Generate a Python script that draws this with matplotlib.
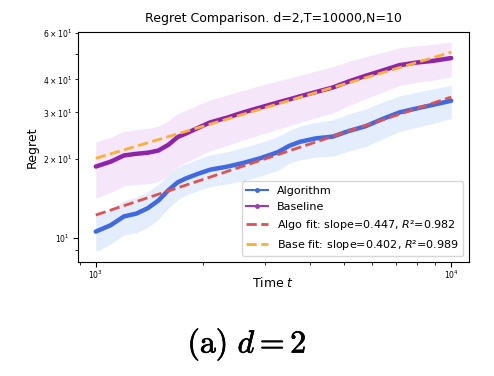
import matplotlib
matplotlib.use("Agg")
import matplotlib.pyplot as plt
from matplotlib.lines import Line2D
import matplotlib.patheffects as pe
import numpy as np

# ---- data ----
t_vals = [1000, 1100, 1200, 1300, 1400, 1500, 1600, 1700, 1800, 1950, 2100, 2350, 2600,
          2900, 3250, 3500, 3750, 4150, 4650, 5150, 5750, 6400, 7150, 7950, 8850, 10000]
algo_mean = [10.6, 11.2, 12.1, 12.4, 13.0, 13.9, 15.2, 16.3, 16.9, 17.6, 18.2, 18.7, 19.3,
             20.1, 21.2, 22.4, 23.2, 23.9, 24.3, 25.5, 26.6, 28.3, 30.0, 31.0, 32.0, 33.2]
algo_std = [1.7, 1.7, 1.8, 1.9, 2.0, 2.1, 2.2, 2.3, 2.3, 2.4, 2.5, 2.6, 2.8,
            2.9, 3.1, 3.2, 3.4, 3.6, 3.8, 4.1, 4.3, 4.5, 4.6, 4.7, 4.8, 4.8]
base_mean = [18.7, 19.5, 20.6, 20.9, 21.1, 21.5, 22.6, 24.2, 25.0, 26.3, 27.5, 28.7, 30.0,
             31.3, 32.7, 33.6, 34.5, 35.8, 37.3, 39.3, 41.3, 43.2, 45.3, 46.3, 47.0, 48.2]
base_std = [4.5, 4.6, 4.8, 4.9, 5.0, 5.1, 5.3, 5.5, 5.6, 5.8, 6.0, 6.2, 6.4,
            6.6, 6.8, 6.9, 7.0, 7.2, 7.4, 7.5, 7.5, 7.4, 7.4, 7.3, 7.3, 7.3]

algo_slope, algo_r2, algo_c1000 = 0.447, 0.982, 12.25
base_slope, base_r2, base_c1000 = 0.402, 0.989, 20.1

title = "Regret Comparison. d=2,T=10000,N=10"
caption = r"$\mathrm{(a)}\ d=2$"

c_algo = "#4169E1"
c_base = "#8E24AA"
c_afit = "#E05252"
c_bfit = "#FBB034"

plt.rcParams["mathtext.fontset"] = "dejavusans"

fig = plt.figure(figsize=(4.94, 3.76), dpi=100)
ax = fig.add_axes([78/494, 1-262/376, (469-78)/494, (262-32)/376])

t = np.array(t_vals, dtype=float)
am, asd = np.array(algo_mean), np.array(algo_std)
bm, bsd = np.array(base_mean), np.array(base_std)

ax.fill_between(t, am - asd, am + asd, color="#E3EDFB", linewidth=0)
ax.fill_between(t, bm - bsd, bm + bsd, color="#F6E6FA", linewidth=0)
ax.plot(t, am, color=c_algo, lw=3.2, solid_capstyle="round", solid_joinstyle="round")
ax.plot(t, bm, color=c_base, lw=3.2, solid_capstyle="round", solid_joinstyle="round")
ax.plot(t, algo_c1000 * (t / 1000.0) ** algo_slope, color=c_afit, lw=2.0, ls="--")
ax.plot(t, base_c1000 * (t / 1000.0) ** base_slope, color=c_bfit, lw=2.0, ls="--")

ax.set_xscale("log")
ax.set_yscale("log")
ax.set_ylim(8.13, 60.5)

ax.tick_params(axis="both", which="both", labelsize=5.5)
ax.tick_params(axis="x", which="both", pad=1.5)
ax.tick_params(axis="y", which="both", pad=2.5)
ax.set_xlabel("Time $t$", fontsize=9, labelpad=-3.5)
ax.set_ylabel("Regret", fontsize=9, labelpad=3)
ax.set_title(title, fontsize=9, pad=7)

handles = [
    Line2D([], [], color=c_algo, lw=1.5, marker=".", markersize=5),
    Line2D([], [], color="#9C3CB8", lw=1.5, marker=".", markersize=5),
    Line2D([], [], color=c_afit, lw=2.0, ls="--"),
    Line2D([], [], color=c_bfit, lw=2.0, ls="--"),
]
labels = ["Algorithm", "Baseline",
          f"Algo fit: slope={algo_slope:.3f}, $R$\u00b2={algo_r2:.3f}",
          f"Base fit: slope={base_slope:.3f}, $R$\u00b2={base_r2:.3f}"]
ax.legend(handles, labels, loc="lower right", fontsize=8, labelspacing=0.55)

fig.text(247/494, 1-345/376, caption, fontsize=23, ha="center", va="center",
         math_fontfamily="cm",
         path_effects=[pe.withStroke(linewidth=0.5, foreground="black")])

fig.savefig("out.png", dpi=100)
